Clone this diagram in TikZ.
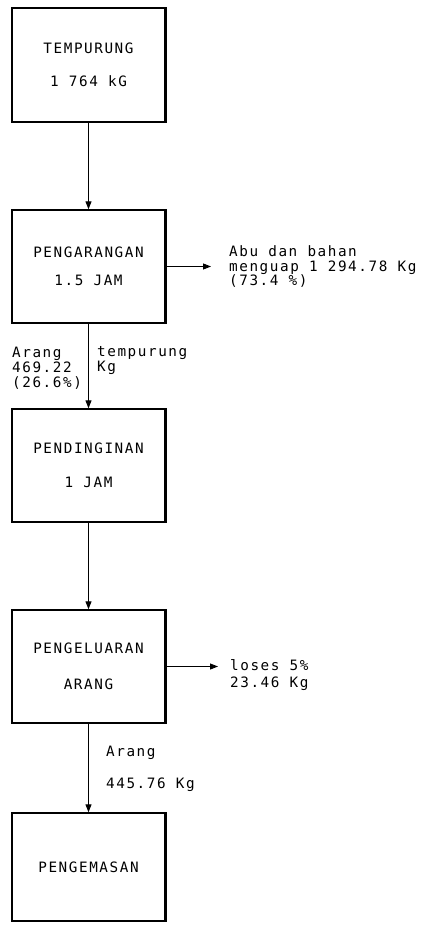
\documentclass[tikz,border=0pt]{standalone}
\usepackage{fontspec}
\setmonofont[LetterSpace=11]{DejaVu Sans Mono}
\usetikzlibrary{arrows.meta}
\tikzset{
  procbox/.style={draw, line width=1.4pt, minimum width=153pt, inner sep=0pt, align=center},
  lbl/.style={inner sep=0pt, align=left, anchor=west},
  arr/.style={line width=1pt, -{Triangle[length=8pt,width=6pt]}},
  thickedge/.style={line width=2.6pt}
}
\begin{document}
\begin{tikzpicture}[x=1pt,y=-1pt,font=\ttfamily\fontsize{14.3}{14.5}\selectfont]
\useasboundingbox (0,0) rectangle (424,925);
\fill[white] (0,0) rectangle (424,925);

\node[procbox, minimum height=114pt] (b1) at (88.5,65) {TEMPURUNG\\[19pt]1 764 kG};
\node[procbox, minimum height=113pt] (b2) at (88.5,266.5) {PENGARANGAN\\[14pt]1.5 JAM};
\node[procbox, minimum height=113pt] (b3) at (88.5,465.5) {PENDINGINAN\\[19pt]1 JAM};
\node[procbox, minimum height=113pt] (b4) at (88.5,666.5) {PENGELUARAN\\[21pt]ARANG};
\node[procbox, minimum height=108pt] (b5) at (88.5,867) {PENGEMASAN};

\foreach \b in {b1,b2,b3,b4,b5}{
  \draw[thickedge] (\b.north east) -- (\b.south east);
}

\node[lbl] (abu) at (229,267) {Abu dan bahan\\menguap 1 294.78 Kg\\(73.4 \%)};
\node[lbl, font=\ttfamily\fontsize{14.3}{15}\selectfont] (arang1) at (12,368) {Arang\\469.22\\(26.6\%)};
\node[lbl, font=\ttfamily\fontsize{14.3}{15}\selectfont] (temp) at (97,360.5) {tempurung\\Kg};
\node[lbl, font=\ttfamily\fontsize{14.3}{17}\selectfont] (loses) at (230,675.5) {loses 5\%\\23.46 Kg};
\node[lbl] (arang2) at (106,753) {Arang};
\node[lbl] (kg2) at (106,785) {445.76 Kg};

\draw[arr] (b1) -- (b2);
\draw[arr] (b2) -- (b3);
\draw[arr] (b3) -- (b4);
\draw[arr] (b4) -- (b5);
\draw[arr, shorten >=18pt] (b2.east) -- (b2.east -| abu.west);
\draw[arr, shorten >=12pt] (b4.east) -- (b4.east -| loses.west);
\end{tikzpicture}
\end{document}
